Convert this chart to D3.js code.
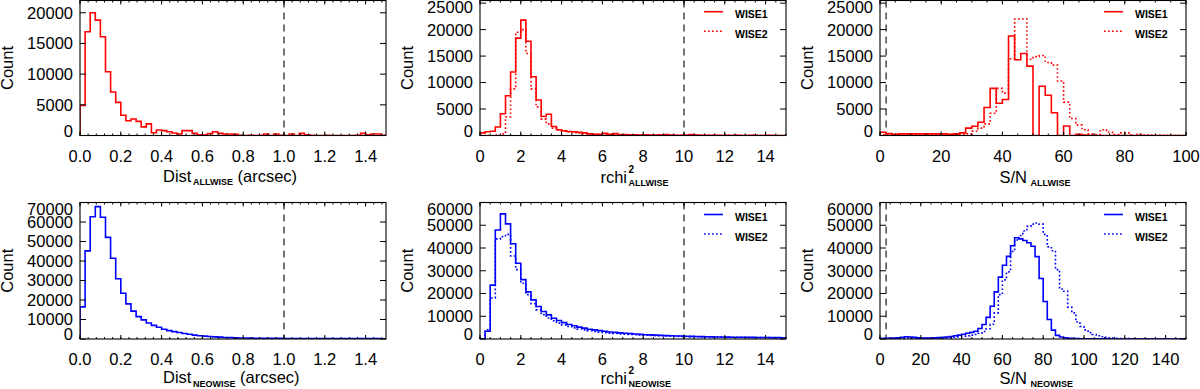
<!DOCTYPE html>
<html><head><meta charset="utf-8">
<script src="https://cdn.jsdelivr.net/npm/d3@7"></script>
<style>
body{margin:0;background:#fff}
svg{display:block}
text{font-family:"Liberation Sans",Arial,Helvetica,sans-serif;fill:#000}
</style>
</head><body>
<svg id="c" width="1200" height="389"></svg>
<script>
// ---------------- DATA ----------------
const distBinStart = 0, distBinWidth = 0.025;   // arcsec
const rchiBinStart = 0, rchiBinWidth = 0.25;
const snBinStart = 0, snBinWidth = 2;

const distAllwise = [4900,16900,20000,18800,16100,10400,7100,5400,3300,2400,
  2700,2300,1400,1900,450,900,800,600,400,250,
  800,800,350,100,100,300,600,350,250,250,
  200,50,0,50,0,50,250,0,250,50,
  0,250,0,350,100,50,0,0,50,0,
  0,0,0,0,50,350,100,250,250,50];

const rchiAllwiseW1 = [500,700,800,1600,4100,7500,12000,18400,21800,17800,
  11100,6700,3600,4000,1700,1100,900,750,700,600,
  500,300,250,250,400,250,350,200,200,150,
  150,100,150,100,100,150,200,100,50,50,
  100,200,100,50,50,50,50,0,50,0,
  50,0,0,50,0,0,50,0,0,0];
const rchiAllwiseW2 = [0,0,0,100,300,3500,8800,19500,20000,15500,
  8800,5400,3100,2200,1400,1000,800,650,550,450,
  350,300,250,200,200,150,150,150,100,100,
  100,100,100,80,80,80,60,60,60,50,
  50,50,50,40,40,40,30,30,30,30,
  20,20,20,20,20,10,10,10,10,10];

const snAllwiseW1 = [600,350,250,300,300,300,300,300,300,300,
  300,250,300,500,1400,1750,2500,5300,8900,6100,
  6800,18800,14300,15500,13100,0,9300,7600,4300,0,
  1800,0,250,100,50,0,0,0,0,0,
  0,0,0,0,0,0,0,0,0,0];
const snAllwiseW2 = [200,200,200,200,200,200,200,200,200,200,
  200,200,200,200,300,800,1400,2200,4200,8900,
  8000,14500,22000,22000,14400,14900,15100,13800,13300,10300,
  6300,3200,2000,1100,300,200,1100,600,200,500,
  500,0,250,100,50,50,0,50,0,0];

const distNeowise = [16500,45200,62700,67900,62400,52100,41400,30900,23500,18000,
  14300,11500,9800,8200,7000,6000,5000,4300,3800,3300,
  2800,2400,2000,1700,1500,1300,1100,950,800,700,
  600,550,500,450,400,380,350,330,310,300,
  280,270,260,250,240,230,220,220,210,200,
  200,190,190,180,180,180,170,170,170,160];

const rchiNeowiseW1 = [0,3400,23700,47900,55000,50600,41900,33300,26100,20700,
  17200,14300,12100,10600,9100,8100,7200,6400,5800,5200,
  4800,4300,4000,3700,3400,3100,2900,2700,2500,2350,
  2200,2050,1900,1800,1700,1600,1500,1400,1350,1300,
  1200,1150,1100,1050,1000,950,900,870,840,800,
  780,750,720,700,680,650,630,610,590,570];
const rchiNeowiseW2 = [0,4000,18000,44000,45000,46000,36500,30500,24500,19500,
  15500,12800,10700,9200,8000,7000,6200,5500,4900,4400,
  4000,3600,3300,3000,2800,2600,2400,2200,2100,2000,
  1850,1750,1650,1550,1450,1400,1300,1250,1200,1150,
  1100,1050,1000,950,900,870,840,810,780,750,
  720,700,680,650,630,610,590,570,550,530];

const snNeowiseW1 = [200,300,300,400,500,800,1000,900,700,500,
  400,400,400,500,600,700,900,1100,1400,1700,
  2100,2500,2900,3400,4600,6400,9500,14400,20700,27200,
  32400,36300,41000,44500,44000,43300,42300,40800,36200,26600,
  16500,8600,3900,1600,900,500,300,200,150,100,
  80,60,50,50,40,40,30,30,30,20,
  20,20,20,10,10,10,10,10,10,0,
  0,0,0,0,0];
const snNeowiseW2 = [200,250,250,300,350,400,450,450,400,350,
  300,300,300,300,350,400,500,600,800,1000,
  1200,1400,1700,2000,2500,3300,4500,6500,11500,19500,
  26000,29500,38500,43500,45500,47500,49500,50500,51000,50500,
  46000,40500,38800,30500,22000,21000,14000,11500,7500,5500,
  4000,2800,2000,1400,1000,700,500,350,250,200,
  150,120,100,80,60,50,40,30,30,20,
  20,10,10,10,0];

// ticks
const distTicks = [0.0,0.2,0.4,0.6,0.8,1.0,1.2,1.4];
const rchiTicks = [0,2,4,6,8,10,12,14];
const snAllTicks = [0,20,40,60,80,100];
const snNeoTicks = [0,20,40,60,80,100,120,140];
const countTicks22 = [0,5000,10000,15000,20000];
const countTicks25 = [0,5000,10000,15000,20000,25000];
const countTicks70 = [0,10000,20000,30000,40000,50000,60000,70000];
const countTicks60 = [0,10000,20000,30000,40000,50000,60000];
const legendLabels = ["WISE1","WISE2"];
const RED = "#ff0000", BLUE = "#0000ff";

// ---------------- DRAW ----------------
const svg = d3.select("#c");
const FS = 16.5, SUBFS = 9;

function drawPanel(p, idx){
  const g = svg.append("g");
  const x = d3.scaleLinear().domain(p.xDomain).range([p.left, p.left + 306]);
  const y = d3.scaleLinear().domain(p.yDomain).range([p.bottom, p.top]);
  const cid = "clip" + idx;
  g.append("clipPath").attr("id", cid).append("rect")
    .attr("x", p.left).attr("y", p.top).attr("width", 306).attr("height", p.bottom - p.top);

  const plot = g.append("g").attr("clip-path", `url(#${cid})`);
  plot.append("line").attr("x1", x(p.vline)).attr("x2", x(p.vline))
    .attr("y1", p.top).attr("y2", p.bottom)
    .attr("stroke", "#3a3a3a").attr("stroke-width", 1.4).attr("stroke-dasharray", "7,5");

  const line = d3.line().x(d => x(d[0])).y(d => y(d[1])).curve(d3.curveStepAfter);
  p.series.forEach(s => {
    const pts = [[s.start, 0]];
    s.counts.forEach((c, i) => pts.push([s.start + i * s.width, c]));
    pts.push([s.start + s.counts.length * s.width, s.counts[s.counts.length - 1]]);
    plot.append("path").attr("d", line(pts)).attr("fill", "none")
      .attr("stroke", p.color).attr("stroke-width", 1.6)
      .attr("stroke-dasharray", s.dotted ? "1.7,2.3" : null);
  });

  g.append("rect").attr("x", p.left).attr("y", p.top).attr("width", 306)
    .attr("height", p.bottom - p.top).attr("fill", "none").attr("stroke", "#000").attr("stroke-width", 1.1);

  const minor = d3.range(p.xDomain[0], p.xDomain[1] + 1e-9, p.xMinor);
  minor.forEach(v => {
    const xx = x(v);
    g.append("line").attr("x1", xx).attr("x2", xx).attr("y1", p.bottom).attr("y2", p.bottom - 2).attr("stroke", "#000");
    g.append("line").attr("x1", xx).attr("x2", xx).attr("y1", p.top).attr("y2", p.top + 2).attr("stroke", "#000");
  });
  p.xTicks.forEach(v => {
    const xx = x(v);
    g.append("line").attr("x1", xx).attr("x2", xx).attr("y1", p.bottom).attr("y2", p.bottom - 4).attr("stroke", "#000");
    g.append("line").attr("x1", xx).attr("x2", xx).attr("y1", p.top).attr("y2", p.top + 4).attr("stroke", "#000");
    g.append("text").attr("x", xx).attr("y", p.bottom + 26).attr("text-anchor", "middle")
      .attr("font-size", FS).text(p.xFmt(v));
  });
  p.yTicks.forEach(v => {
    const yy = y(v);
    g.append("line").attr("x1", p.left).attr("x2", p.left + 6).attr("y1", yy).attr("y2", yy).attr("stroke", "#000");
    g.append("line").attr("x1", p.left + 306).attr("x2", p.left + 300).attr("y1", yy).attr("y2", yy).attr("stroke", "#000");
    const ly = Math.max(p.top + 6.5, Math.min(p.bottom - 4.5, yy));
    g.append("text").attr("x", p.left - 7).attr("y", ly).attr("dy", "0.36em")
      .attr("text-anchor", "end").attr("font-size", FS).text(v);
  });
  g.append("text").attr("transform", `translate(${p.left - 67.5},${(p.top + p.bottom) / 2}) rotate(-90)`)
    .attr("text-anchor", "middle").attr("font-size", FS).text("Count");

  const tb = p.bottom + p.titleDy;
  if (p.kind === "dist") {
    const t = g.append("text").attr("x", p.left + 83).attr("y", tb).attr("font-size", FS);
    t.append("tspan").text("Dist");
    t.append("tspan").attr("font-size", SUBFS).attr("font-weight", "bold").attr("dx", 1.5).attr("dy", 3.5).text(p.sub);
    t.append("tspan").attr("dy", -3.5).text(" (arcsec)");
  } else if (p.kind === "rchi") {
    g.append("text").attr("x", p.left + 147).attr("y", tb).attr("text-anchor", "end").attr("font-size", FS).text("rchi");
    g.append("text").attr("x", p.left + 148.5).attr("y", tb - 9.5).attr("font-size", SUBFS + 1).attr("font-weight", "bold").text("2");
    g.append("text").attr("x", p.left + 148.5).attr("y", tb + 3.5).attr("font-size", SUBFS).attr("font-weight", "bold").text(p.sub);
  } else {
    g.append("text").attr("x", p.left + 147).attr("y", tb).attr("text-anchor", "end").attr("font-size", FS).text("S/N");
    g.append("text").attr("x", p.left + 150.5).attr("y", tb + 3.5).attr("font-size", SUBFS).attr("font-weight", "bold").text(p.sub);
  }

  if (p.legend) {
    const lx = p.left + 224, ly0 = p.top + p.legendDy;
    [0, 1].forEach(i => {
      const yy = ly0 + i * 19.5;
      g.append("line").attr("x1", lx).attr("x2", lx + 19).attr("y1", yy).attr("y2", yy)
        .attr("stroke", p.color).attr("stroke-width", 1.6).attr("stroke-dasharray", i ? "1.7,2.3" : null);
      g.append("text").attr("x", lx + 31).attr("y", yy + 6.5).attr("font-size", 10.5)
        .attr("font-weight", 600).text(legendLabels[i]);
    });
  }
}

const f1 = d3.format(".1f"), f0 = d3.format("d");
const TOP1 = 0.5, BOT1 = 135.5, TOP2 = 202.5, BOT2 = 339;
const panels = [
  {left: 80, top: TOP1, bottom: BOT1, xDomain: [0, 1.5], yDomain: [0, 22000], xTicks: distTicks, xMinor: 0.04, xFmt: f1,
   yTicks: countTicks22, vline: 1.0, color: RED, kind: "dist", sub: "ALLWISE", legend: false, titleDy: 46,
   series: [{start: distBinStart, width: distBinWidth, counts: distAllwise}]},
  {left: 480, top: TOP1, bottom: BOT1, xDomain: [0, 15], yDomain: [0, 25500], xTicks: rchiTicks, xMinor: 0.5, xFmt: f0,
   yTicks: countTicks25, vline: 10, color: RED, kind: "rchi", sub: "ALLWISE", legend: true, legendDy: 11.2, titleDy: 47,
   series: [{start: rchiBinStart, width: rchiBinWidth, counts: rchiAllwiseW1},
            {start: rchiBinStart, width: rchiBinWidth, counts: rchiAllwiseW2, dotted: true}]},
  {left: 880, top: TOP1, bottom: BOT1, xDomain: [0, 100], yDomain: [0, 25500], xTicks: snAllTicks, xMinor: 5, xFmt: f0,
   yTicks: countTicks25, vline: 2, color: RED, kind: "sn", sub: "ALLWISE", legend: true, legendDy: 11.2, titleDy: 47,
   series: [{start: snBinStart, width: snBinWidth, counts: snAllwiseW1},
            {start: snBinStart, width: snBinWidth, counts: snAllwiseW2, dotted: true}]},
  {left: 80, top: TOP2, bottom: BOT2, xDomain: [0, 1.5], yDomain: [0, 70000], xTicks: distTicks, xMinor: 0.04, xFmt: f1,
   yTicks: countTicks70, vline: 1.0, color: BLUE, kind: "dist", sub: "NEOWISE", legend: false, titleDy: 44,
   series: [{start: distBinStart, width: distBinWidth, counts: distNeowise}]},
  {left: 480, top: TOP2, bottom: BOT2, xDomain: [0, 15], yDomain: [0, 60000], xTicks: rchiTicks, xMinor: 0.5, xFmt: f0,
   yTicks: countTicks60, vline: 10, color: BLUE, kind: "rchi", sub: "NEOWISE", legend: true, legendDy: 12, titleDy: 44.5,
   series: [{start: rchiBinStart, width: rchiBinWidth, counts: rchiNeowiseW1},
            {start: rchiBinStart, width: rchiBinWidth, counts: rchiNeowiseW2, dotted: true}]},
  {left: 880, top: TOP2, bottom: BOT2, xDomain: [0, 150], yDomain: [0, 60000], xTicks: snNeoTicks, xMinor: 5, xFmt: f0,
   yTicks: countTicks60, vline: 3, color: BLUE, kind: "sn", sub: "NEOWISE", legend: true, legendDy: 12, titleDy: 44.5,
   series: [{start: snBinStart, width: snBinWidth, counts: snNeowiseW1},
            {start: snBinStart, width: snBinWidth, counts: snNeowiseW2, dotted: true}]}
];
panels.forEach(drawPanel);
</script>
</body></html>
